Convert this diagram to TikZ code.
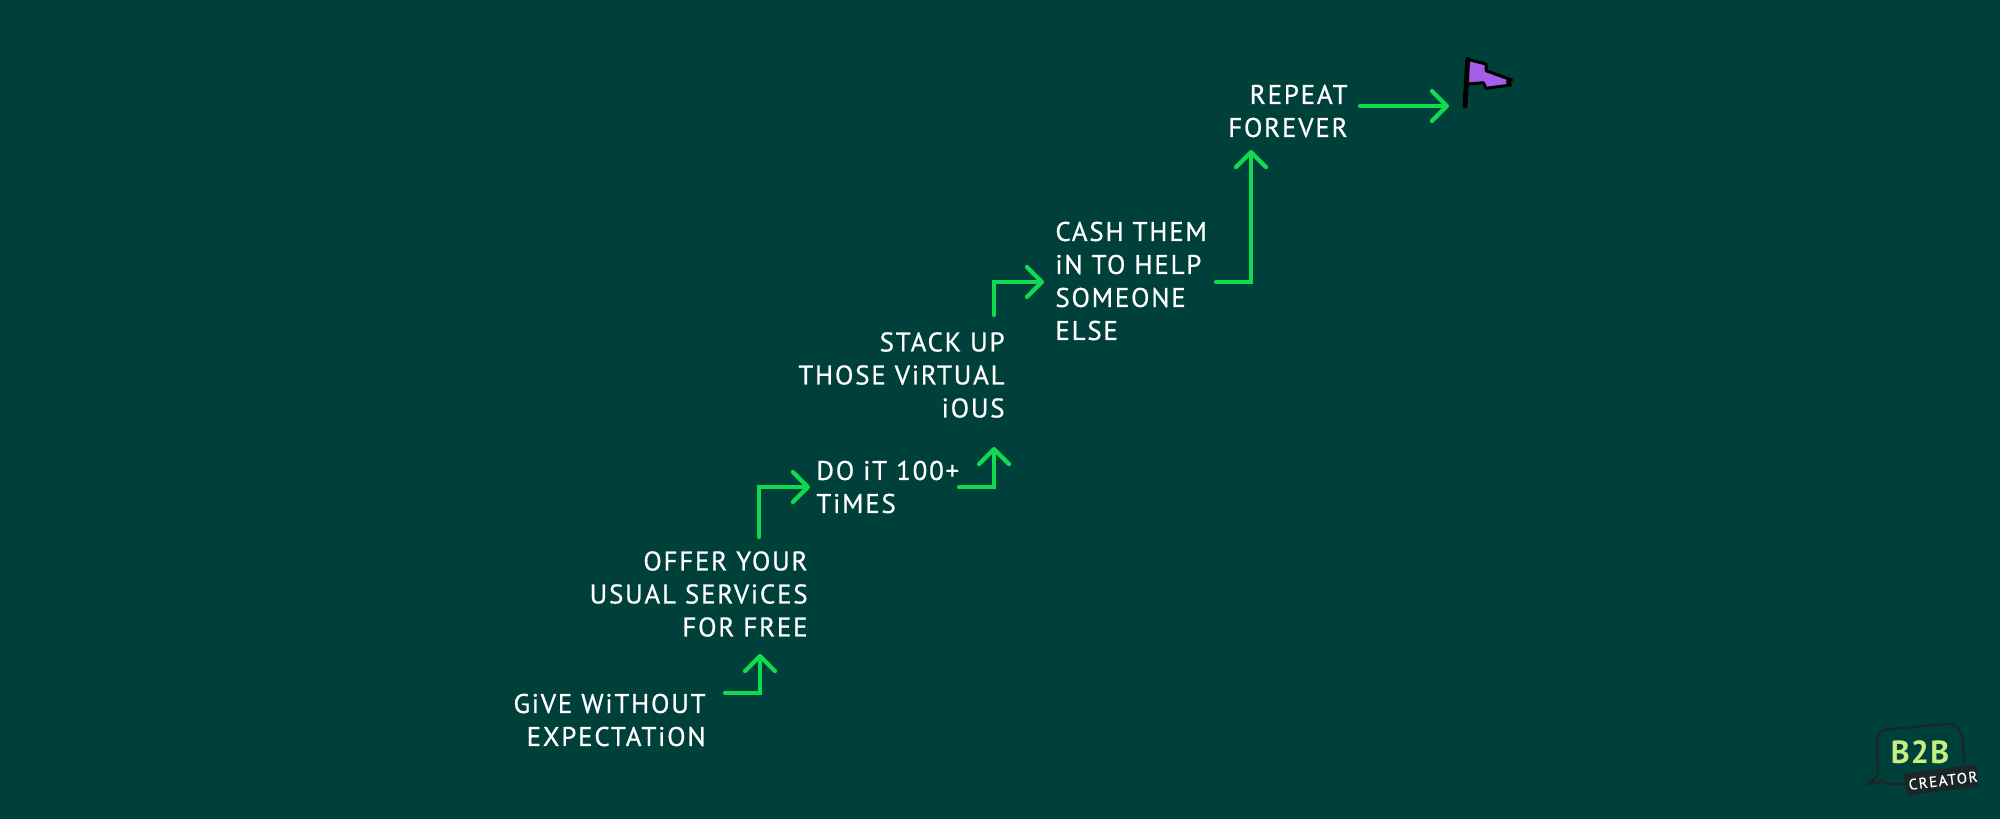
\documentclass[tikz,border=0pt]{standalone}
\usepackage{fontspec}
\setmainfont{PT Sans}
\usetikzlibrary{arrows.meta}
\definecolor{bg}{HTML}{00403A}
\definecolor{arrowgreen}{HTML}{10DB50}
\definecolor{flagpurple}{HTML}{A55EEA}
\definecolor{logolime}{HTML}{C6EE80}
\definecolor{logodark}{HTML}{1C2626}
\tikzset{
  x=0.5pt,y=-0.5pt,
  steptext/.style={text=white,inner sep=0pt,font=\fontsize{13.5}{16.5}\selectfont\addfontfeature{LetterSpace=6.5,FakeBold=0.6}},
  rightstep/.style={steptext,anchor=east,align=right},
  leftstep/.style={steptext,anchor=west,align=left},
  conn/.style={draw=arrowgreen,line width=2.1pt,line join=miter,line cap=round,
    -{Straight Barb[length=7.5pt,width=15pt,line width=2.1pt,round]}},
}
\begin{document}
\begin{tikzpicture}
\fill[bg] (0,0) rectangle (2000,819);
\useasboundingbox (0,0) rectangle (2000,819);
\node[rightstep] (give) at (706,720) {GiVE WiTHOUT\\EXPECTATiON};
\node[rightstep] (offer) at (808,594) {OFFER YOUR\\USUAL SERViCES\\FOR FREE};
\node[leftstep] (doit) at (816,487) {DO iT 100+\\TiMES};
\node[rightstep] (stack) at (1005,375) {STACK UP\\THOSE ViRTUAL\\iOUS};
\node[leftstep] (cash) at (1055,281) {CASH THEM\\iN TO HELP\\SOMEONE\\ELSE};
\node[rightstep] (repeat) at (1348,111) {REPEAT\\FOREVER};
\coordinate (a1s) at (725,693); \coordinate (a1e) at (760,654);
\coordinate (a2s) at (759,537); \coordinate (a2e) at (810,487);
\coordinate (a3s) at (959,487); \coordinate (a3e) at (994,447);
\coordinate (a4s) at (994,315); \coordinate (a4e) at (1044,282);
\coordinate (a5s) at (1216,282); \coordinate (a5e) at (1251,150);
\coordinate (a6s) at (1360,106); \coordinate (a6e) at (1449,106);
\draw[conn] (a1s) -| (a1e);
\draw[conn] (a2s) |- (a2e);
\draw[conn] (a3s) -| (a3e);
\draw[conn] (a4s) |- (a4e);
\draw[conn] (a5s) -| (a5e);
\draw[conn] (a6s) -- (a6e);
% flag
\fill[flagpurple,draw=black,line width=1.5pt,line join=round]
 (1467.7,59.3)--(1486,64)--(1486,70.7)--(1511.7,80)--(1507.3,81.7)--(1510.7,85)--(1486,88.3)--(1483.3,82.7)--(1467.7,84)--cycle;
\draw[black,line width=2.4pt,line cap=round] (1467.7,59.3)--(1465,106);
% logo
\draw[logodark,line width=1.2pt,line join=round]
 (1920,784) -- (1887,784) .. controls (1884,782) and (1883,781) .. (1883,780)
 .. controls (1880,783) and (1875,784) .. (1867,784)
 .. controls (1873,781) and (1877,778) .. (1878,773)
 -- (1877,745) .. controls (1877,730) and (1882,730) .. (1892,729)
 -- (1945,724) .. controls (1958,723) and (1962,732) .. (1963,745) -- (1964,765);
\node[text=logolime,inner sep=0pt,font=\fontsize{16}{16}\selectfont\bfseries\addfontfeature{LetterSpace=4}] (logob) at (1920,752) {B2B};
\fill[logodark] (1904,773.5)--(1976,764.5)--(1979,786.5)--(1907,795.5)--cycle;
\node[text=white,inner sep=0pt,rotate=7,font=\fontsize{7.5}{8}\selectfont\addfontfeature{LetterSpace=10,FakeBold=0.8}] (logoc) at (1943,780.5) {CREATOR};
\end{tikzpicture}
\end{document}
